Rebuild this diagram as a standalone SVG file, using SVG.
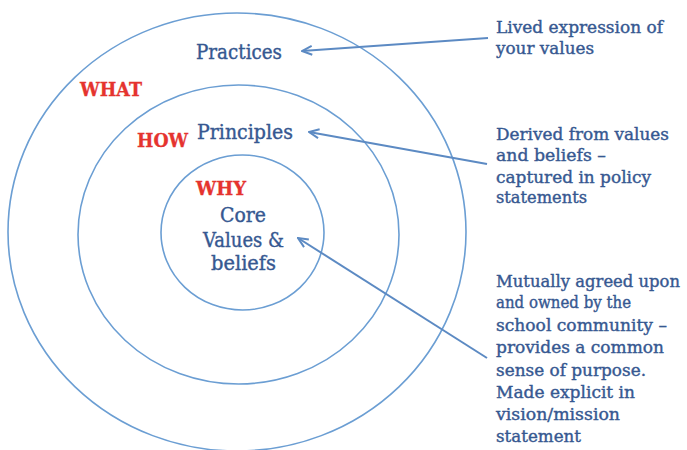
<svg xmlns="http://www.w3.org/2000/svg" width="687" height="450" viewBox="0 0 687 450">
  <defs>
    <style>
      .ring { fill: none; stroke: #6b9ed3; stroke-width: 1.6; }
      .label { font-family: "DejaVu Serif", "Liberation Serif", serif; fill: #365891; stroke: #365891; stroke-width: 0.4; }
      .big { font-size: 20px; }
      .note { font-size: 17px; }
      .tag { font-family: "DejaVu Serif", "Liberation Serif", serif; font-weight: bold; fill: #e5332e; stroke: #e5332e; stroke-width: 0.3; font-size: 18px; }
      .link { fill: none; stroke: #5c8ac3; stroke-width: 2; }
    </style>
    <marker id="head" viewBox="0 0 12 12" refX="11" refY="6" markerWidth="12" markerHeight="12" markerUnits="userSpaceOnUse" orient="auto-start-reverse">
      <path d="M1,1.5 L11,6 L1,10.5" fill="none" stroke="#5c8ac3" stroke-width="2" stroke-linejoin="miter"/>
    </marker>
  </defs>
  <rect width="687" height="450" fill="#ffffff"/>

  <!-- outer ring: practices -->
  <g id="what">
    <ellipse class="ring" cx="237" cy="232" rx="229" ry="219"/>
    <text class="tag" x="80" y="96" textLength="62" lengthAdjust="spacingAndGlyphs">WHAT</text>
    <text class="label big" x="239" y="59" text-anchor="middle" textLength="86" lengthAdjust="spacingAndGlyphs">Practices</text>
  </g>

  <!-- middle ring: principles -->
  <g id="how">
    <ellipse class="ring" cx="238.5" cy="234.5" rx="160.5" ry="149.5"/>
    <text class="tag" x="137" y="147" textLength="51" lengthAdjust="spacingAndGlyphs">HOW</text>
    <text class="label big" x="197" y="139" textLength="96" lengthAdjust="spacingAndGlyphs">Principles</text>
  </g>

  <!-- inner ring: core values -->
  <g id="why">
    <ellipse class="ring" cx="242.5" cy="232.5" rx="81.5" ry="77.5"/>
    <text class="tag" x="196" y="195" textLength="50" lengthAdjust="spacingAndGlyphs">WHY</text>
    <text class="label big" x="243" y="222" text-anchor="middle" textLength="46" lengthAdjust="spacingAndGlyphs">Core</text>
    <text class="label big" x="243.5" y="247" text-anchor="middle" textLength="81" lengthAdjust="spacingAndGlyphs">Values &amp;</text>
    <text class="label big" x="243.5" y="270" text-anchor="middle" textLength="65" lengthAdjust="spacingAndGlyphs">beliefs</text>
  </g>

  <!-- side notes -->
  <g id="note-practices">
    <text class="label note" x="496" y="33" textLength="167" lengthAdjust="spacingAndGlyphs">Lived expression of</text>
    <text class="label note" x="496" y="54" textLength="98" lengthAdjust="spacingAndGlyphs">your values</text>
  </g>
  <g id="note-principles">
    <text class="label note" x="496" y="140" textLength="173" lengthAdjust="spacingAndGlyphs">Derived from values</text>
    <text class="label note" x="496" y="161" textLength="110" lengthAdjust="spacingAndGlyphs">and beliefs –</text>
    <text class="label note" x="496" y="183" textLength="155" lengthAdjust="spacingAndGlyphs">captured in policy</text>
    <text class="label note" x="496" y="203" textLength="91" lengthAdjust="spacingAndGlyphs">statements</text>
  </g>
  <g id="note-core">
    <text class="label note" x="496" y="287" textLength="184" lengthAdjust="spacingAndGlyphs">Mutually agreed upon</text>
    <text class="label note" x="496" y="308" textLength="135" lengthAdjust="spacingAndGlyphs">and owned by the</text>
    <text class="label note" x="496" y="331" textLength="171" lengthAdjust="spacingAndGlyphs">school community –</text>
    <text class="label note" x="496" y="353" textLength="168" lengthAdjust="spacingAndGlyphs">provides a common</text>
    <text class="label note" x="496" y="376" textLength="150" lengthAdjust="spacingAndGlyphs">sense of purpose.</text>
    <text class="label note" x="496" y="398" textLength="139" lengthAdjust="spacingAndGlyphs">Made explicit in</text>
    <text class="label note" x="496" y="420" textLength="124" lengthAdjust="spacingAndGlyphs">vision/mission</text>
    <text class="label note" x="496" y="442" textLength="85" lengthAdjust="spacingAndGlyphs">statement</text>
  </g>

  <!-- connectors from notes to ring labels -->
  <g id="connectors">
    <line class="link" x1="488" y1="38" x2="302" y2="51" marker-end="url(#head)"/>
    <line class="link" x1="487" y1="164" x2="309" y2="132" marker-end="url(#head)"/>
    <line class="link" x1="487" y1="358" x2="298" y2="238" marker-end="url(#head)"/>
  </g>
</svg>
